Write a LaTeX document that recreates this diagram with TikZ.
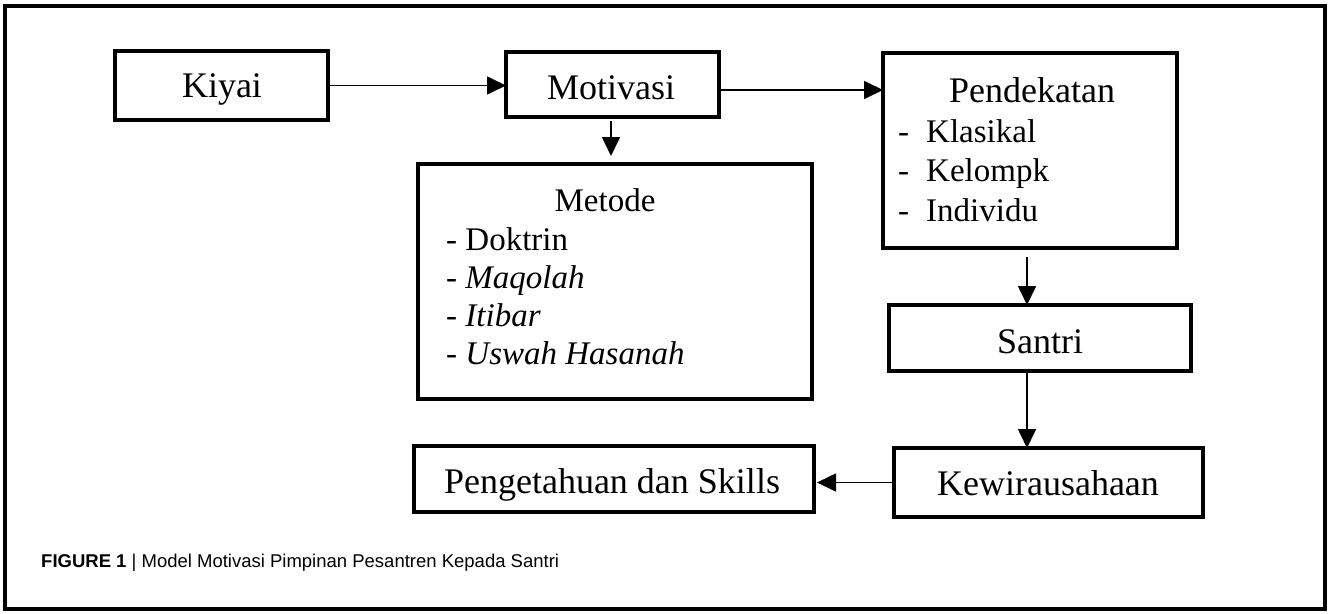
\documentclass[tikz,border=0pt]{standalone}
\usepackage{fontspec}
\setmainfont{Liberation Serif}
\newfontfamily\capfont{Liberation Sans}
\usetikzlibrary{arrows.meta}
\begin{document}
\begin{tikzpicture}[x=1pt,y=-1pt,
  box/.style={draw,line width=3.2pt,inner sep=0pt,outer sep=0pt,anchor=north west},
  frm/.style={draw,line width=4.2pt,inner sep=0pt,outer sep=0pt,anchor=north west},
  big/.style={inner sep=0pt,font=\fontsize{36}{40}\selectfont,anchor=base},
  mid/.style={inner sep=0pt,font=\fontsize{33}{38}\selectfont,anchor=base},
  itm/.style={inner sep=0pt,font=\fontsize{33}{38}\selectfont,anchor=base west},
  arr/.style={line width=1.7pt,-{Triangle[length=19pt,width=18pt]}},
  captext/.style={inner sep=0pt,font=\capfont\fontsize{18.5}{22}\selectfont,anchor=base west}]
\useasboundingbox (0,0) rectangle (1332,613);
\node[frm,minimum width=1320pt,minimum height=603pt] (frame) at (5,6) {};
% boxes
\node[box,minimum width=213pt,minimum height=69pt] (kiyai) at (115,51) {};
\node[box,minimum width=213pt,minimum height=65pt] (motivasi) at (506,52) {};
\node[box,minimum width=394pt,minimum height=235pt] (metode) at (418,164) {};
\node[box,minimum width=294pt,minimum height=195pt] (pendekatan) at (883,53) {};
\node[box,minimum width=302pt,minimum height=66pt] (santri) at (889,305) {};
\node[box,minimum width=309pt,minimum height=69pt] (kewira) at (894,448) {};
\node[box,minimum width=400pt,minimum height=66pt] (peng) at (414,446) {};
% texts
\node[big] (tkiyai) at (222,97) {Kiyai};
\node[big] (tmotivasi) at (611,99) {Motivasi};
\node[mid] (tmetode) at (605,211) {Metode};
\node[itm] (m1) at (446,250) {- Doktrin};
\node[itm] (m2) at (446,288) {- \textit{Maqolah}};
\node[itm] (m3) at (446,326) {- \textit{Itibar}};
\node[itm] (m4) at (446,364) {- \textit{Uswah Hasanah}};
\node[big] (tpend) at (1032,102) {Pendekatan};
\node[itm] (d1) at (898,142) {-};
\node[itm] (p1) at (926,142) {Klasikal};
\node[itm] (d2) at (898,181) {-};
\node[itm] (p2) at (926,181) {Kelompk};
\node[itm] (d3) at (898,221) {-};
\node[itm] (p3) at (926,221) {Individu};
\node[big] (tsantri) at (1040,353) {Santri};
\node[big] (tkewira) at (1048,495) {Kewirausahaan};
\node[big] (tpeng) at (612,493) {Pengetahuan dan Skills};
\node[captext] (caption) at (41,567) {\textbf{FIGURE 1} | Model Motivasi Pimpinan Pesantren Kepada Santri};
% connectors
\draw[arr] (kiyai.east) -- (kiyai.east -| motivasi.west);
\draw[arr] ([yshift=-5.5pt]motivasi.east) coordinate (mp) -- (mp -| pendekatan.west);
\draw[arr,shorten <=4pt,shorten >=8pt] ([xshift=-1.5pt]motivasi.south) coordinate (ms) -- (ms |- metode.north);
\draw[arr,shorten <=9pt] ([xshift=-3pt]pendekatan.south) coordinate (ps) -- (ps |- santri.north);
\draw[arr] (ps |- santri.south) -- (ps |- kewira.north);
\draw[arr,shorten >=3pt] (kewira.west) -- (kewira.west -| peng.east);
\end{tikzpicture}
\end{document}
